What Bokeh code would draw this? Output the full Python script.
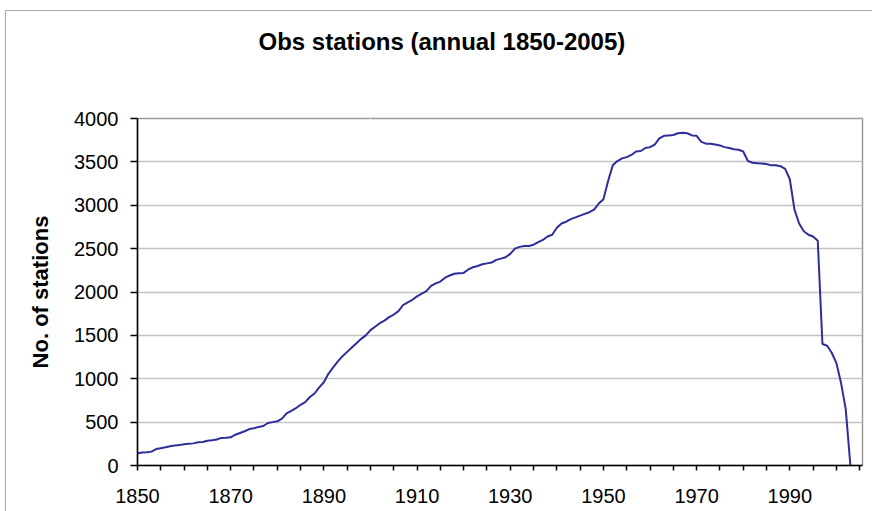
from bokeh.plotting import figure
from bokeh.models import FixedTicker, Range1d, Title, LinearAxis
from bokeh.embed import file_html
from bokeh.resources import INLINE

# ---- data ----
years = list(range(1850, 2004))
stations = [
    140, 150, 152, 160, 190, 200, 210, 222, 230, 235,        # 1850-1859
    245, 250, 255, 268, 272, 285, 290, 300, 318, 320,        # 1860-1869
    325, 355, 375, 395, 420, 430, 445, 455, 490, 500,        # 1870-1879
    510, 540, 600, 630, 660, 700, 730, 790, 830, 900,        # 1880-1889
    960, 1060, 1130, 1200, 1260, 1310, 1360, 1410, 1460, 1500,  # 1890-1899
    1560, 1600, 1640, 1670, 1710, 1740, 1780, 1850, 1880, 1910,  # 1900-1909
    1950, 1980, 2010, 2070, 2100, 2120, 2165, 2190, 2210, 2215,  # 1910-1919
    2220, 2260, 2285, 2300, 2320, 2330, 2340, 2370, 2385, 2400,  # 1920-1929
    2440, 2500, 2520, 2530, 2530, 2545, 2575, 2600, 2640, 2660,  # 1930-1939
    2740, 2790, 2810, 2840, 2860, 2880, 2900, 2920, 2950, 3020,  # 1940-1949
    3070, 3280, 3460, 3510, 3540, 3555, 3580, 3620, 3625, 3660,  # 1950-1959
    3670, 3700, 3770, 3800, 3805, 3810, 3830, 3835, 3830, 3805,  # 1960-1969
    3800, 3730, 3710, 3710, 3700, 3690, 3670, 3660, 3645, 3640,  # 1970-1979
    3620, 3510, 3490, 3485, 3480, 3475, 3460, 3460, 3450, 3420,  # 1980-1989
    3300, 2950, 2790, 2700, 2660, 2640, 2590, 1400, 1380, 1300,  # 1990-1999
    1180, 950, 650, 0,                                           # 2000-2003
]
x_ticks = list(range(1850, 2010, 5))
x_tick_labels = ["1850", "1870", "1890", "1910", "1930", "1950", "1970", "1990"]
y_ticks = list(range(0, 4001, 500))
chart_title = "Obs stations (annual 1850-2005)"

FONT = "Liberation Sans"

p = figure(
    width=867, height=501,
    x_range=Range1d(1850, 2005.6), y_range=Range1d(0, 4000),
    output_backend="svg", toolbar_location=None,
    min_border_left=132, min_border_right=10, min_border_top=108, min_border_bottom=46,
    background_fill_color="white", border_fill_color=None,
)
# chart-area frame lines on the left and top (Excel chart border)
p.styles = {
    "margin-left": "5px", "margin-top": "10px",
    "background-image": "linear-gradient(#a8a8a8, #a8a8a8), linear-gradient(#a8a8a8, #a8a8a8)",
    "background-size": "1px 100%, 100% 1px",
    "background-position": "0 0, 0 0",
    "background-repeat": "no-repeat, no-repeat",
    "background-color": "white",
}

# invisible spacer between frame and title (keeps the title near the top)
spacer = LinearAxis(ticker=FixedTicker(ticks=[1900]), axis_line_color=None,
                    major_tick_line_color="white", minor_tick_line_color=None,
                    major_tick_in=0, major_tick_out=59, major_label_standoff=0,
                    major_label_overrides={1900: ""}, major_label_text_font_size="0px")
p.add_layout(spacer, "above")

# chart title, centred over the whole chart area (Excel style)
p.add_layout(Title(text=chart_title, align="left", offset=121, standoff=10,
                   text_font=FONT, text_font_size="24px", text_font_style="bold",
                   text_color="black"), "above")

p.outline_line_color = "#9a9a9a"
p.outline_line_width = 1.5

# grid
p.xgrid.grid_line_color = None
p.ygrid.grid_line_color = "#c4c4c4"
p.ygrid.grid_line_width = 1.5

# x axis
xa = p.below[0]
xa.ticker = FixedTicker(ticks=x_ticks)
overrides = {}
for t in x_ticks:
    s = str(t)
    overrides[t] = s if s in x_tick_labels else ""
xa.major_label_overrides = overrides
xa.minor_tick_line_color = None
xa.major_tick_in = 0
xa.major_tick_out = 5
xa.major_tick_line_color = "black"
xa.major_tick_line_width = 1.5
xa.axis_line_color = "black"
xa.axis_line_width = 1.5
xa.major_label_standoff = 18
xa.major_label_text_font = FONT
xa.major_label_text_font_size = "20px"
xa.major_label_text_color = "black"

# y axis
ya = p.left[0]
ya.ticker = FixedTicker(ticks=y_ticks)
ya.minor_tick_line_color = None
ya.major_tick_in = 0
ya.major_tick_out = 7
ya.major_tick_line_color = "black"
ya.major_tick_line_width = 1.5
ya.axis_line_color = "black"
ya.axis_line_width = 1.5
ya.major_label_standoff = 12
ya.major_label_text_font = FONT
ya.major_label_text_font_size = "20px"
ya.major_label_text_color = "black"
ya.axis_label = "No. of stations"
ya.axis_label_text_font = FONT
ya.axis_label_text_font_size = "22px"
ya.axis_label_text_font_style = "bold"
ya.axis_label_text_color = "black"
ya.axis_label_standoff = 18

p.line(years, stations, line_color="#2e2e9a", line_width=2)

open("out.html", "w").write(file_html(p, INLINE))
